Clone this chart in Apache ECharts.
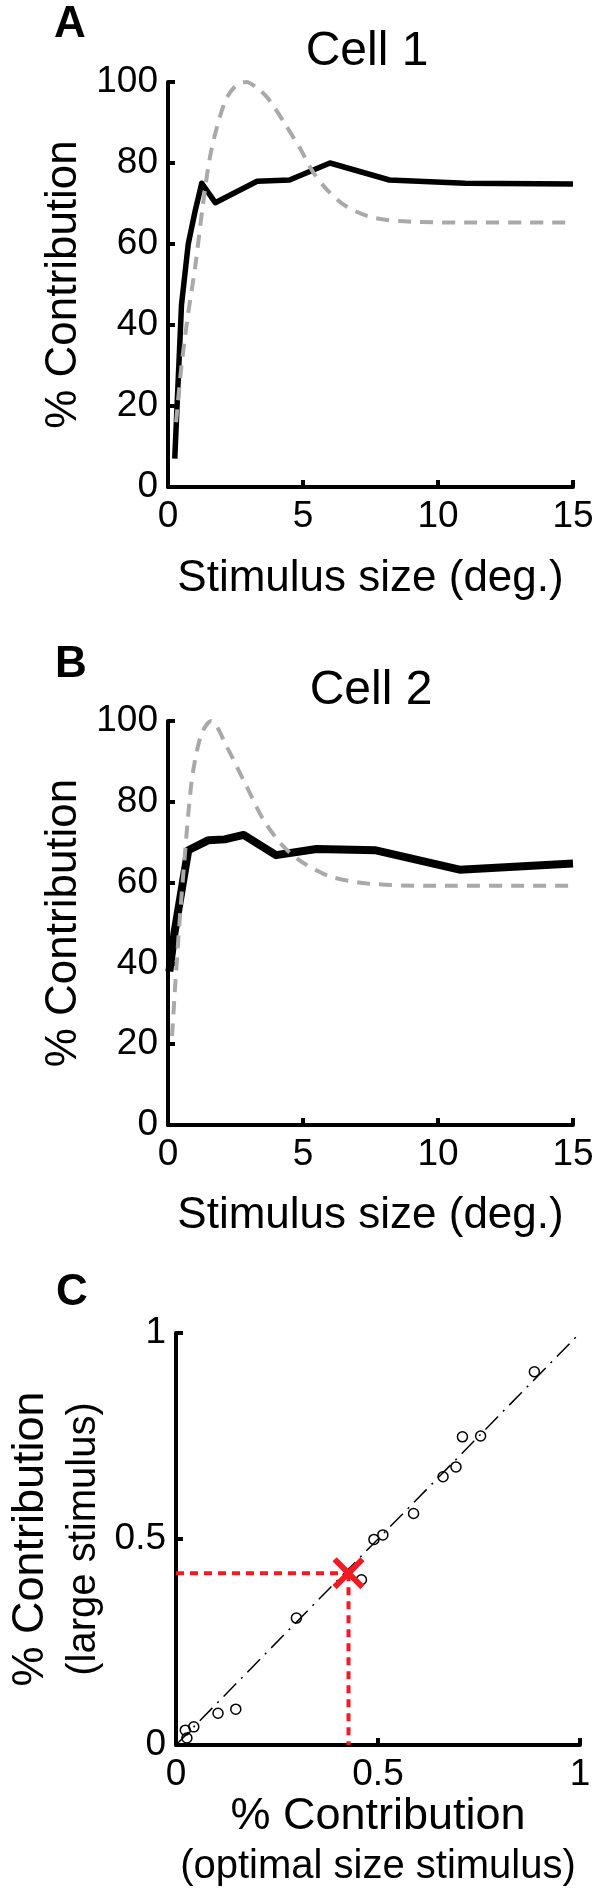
<!DOCTYPE html>
<html>
<head>
<meta charset="utf-8">
<script src="https://cdn.jsdelivr.net/npm/echarts@6/dist/echarts.min.js"></script>
<style>
html,body{margin:0;padding:0;background:#fff;}
#chart{width:600px;height:1895px;}
</style>
</head>
<body>
<div id="chart"></div>
<script>
// ---- Panel A: Cell 1 ----
const cell1DataX = [0.25, 0.5, 0.75, 1.0, 1.25, 1.75, 3.3, 4.5, 6.0, 8.2, 11, 15];
const cell1DataY = [7, 45, 60, 68, 75, 70.2, 75.5, 75.8, 80, 75.8, 75, 74.8];
const cell1ModelX = [0.3, 0.5, 0.75, 1.0, 1.3, 1.6, 2.1, 2.5, 2.9, 3.3, 3.7, 4.3, 4.9, 5.35, 5.9, 6.6, 7.6, 9, 11, 15];
const cell1ModelY = [16, 30, 43, 54, 70, 83, 95, 99, 100, 98.5, 96, 90, 83.5, 78, 73.3, 69.3, 66.5, 65.5, 65.3, 65.3];

// ---- Panel B: Cell 2 ----
const cell2DataX = [0.05, 0.25, 0.75, 1.5, 2.1, 2.8, 4.0, 5.5, 7.7, 10.8, 15];
const cell2DataY = [38, 48, 68, 70.5, 70.7, 71.8, 66.8, 68.3, 68, 63.2, 64.7];
const cell2ModelX = [0.15, 0.3, 0.47, 0.63, 0.79, 0.94, 1.25, 1.6, 2.18, 2.92, 3.54, 4.28, 5.03, 6.02, 7.38, 9.6, 15];
const cell2ModelY = [22, 38, 54, 67.3, 79.7, 88, 97, 100, 93.6, 83.7, 75.5, 68.9, 64.8, 61.5, 59.8, 59.2, 59.2];

// ---- Panel C: population ----
const optimalContrib = [0.023, 0.027, 0.044, 0.104, 0.148, 0.298, 0.459, 0.49, 0.512, 0.588, 0.661, 0.693, 0.709, 0.754, 0.887];
const largeContrib   = [0.036, 0.017, 0.044, 0.077, 0.087, 0.308, 0.401, 0.499, 0.51, 0.562, 0.651, 0.675, 0.748, 0.75, 0.906];
const highlightCell = [0.427, 0.417];
const unityLine = [0, 1];

// tick labels
const sizeTicks = [0, 5, 10, 15];
const pctTicks = [0, 20, 40, 60, 80, 100];
const fracTicks = [0, 0.5, 1];

const FONT = "'Liberation Sans', Arial, Helvetica, sans-serif";
const zip = (a, b) => a.map((v, i) => [v, b[i]]);

function xAxisBase(gridIndex, ticks, name, nameGap) {
  return {
    type: 'value', gridIndex: gridIndex,
    min: ticks[0], max: ticks[ticks.length - 1], interval: ticks[1] - ticks[0],
    axisLine: { show: true, lineStyle: { color: '#000', width: 4 } },
    axisTick: { show: true, inside: true, length: 7, lineStyle: { color: '#000', width: 4 } },
    axisLabel: { color: '#000', fontSize: 37, fontFamily: FONT, margin: 11 },
    splitLine: { show: false },
    name: name, nameLocation: 'middle', nameGap: nameGap,
    nameTextStyle: { color: '#000', fontSize: 44, fontFamily: FONT }
  };
}
function yAxisBase(gridIndex, ticks, name, nameGap) {
  return {
    type: 'value', gridIndex: gridIndex,
    min: ticks[0], max: ticks[ticks.length - 1], interval: ticks[1] - ticks[0],
    axisLine: { show: true, lineStyle: { color: '#000', width: 4 } },
    axisTick: { show: true, inside: true, length: 7, lineStyle: { color: '#000', width: 4 } },
    axisLabel: { color: '#000', fontSize: 37, fontFamily: FONT, margin: 10 },
    splitLine: { show: false },
    name: name, nameLocation: 'middle', nameGap: nameGap,
    nameTextStyle: { color: '#000', fontSize: 44, fontFamily: FONT }
  };
}

const xC = xAxisBase(2, fracTicks, '{a|% Contribution}\n{b|(optimal size stimulus)}', 47);
xC.nameTextStyle = { color: '#000', fontFamily: FONT, rich: {
  a: { fontSize: 45, lineHeight: 50, fontFamily: FONT, color: '#000' },
  b: { fontSize: 40, lineHeight: 50, fontFamily: FONT, color: '#000' } } };
const yC = yAxisBase(2, fracTicks, '{a|% Contribution}\n{b|(large stimulus)}', 66);
yC.nameTextStyle = { color: '#000', fontFamily: FONT, rich: {
  a: { fontSize: 45, lineHeight: 53, fontFamily: FONT, color: '#000' },
  b: { fontSize: 40, lineHeight: 53, fontFamily: FONT, color: '#000' } } };

const GRAY = '#a9a9a9';
const RED = '#f01c24';

const option = {
  animation: false,
  backgroundColor: '#fff',
  grid: [
    { left: 168, top: 82, width: 405, height: 405 },
    { left: 168, top: 721, width: 405, height: 404 },
    { left: 167, top: 1333, width: 413, height: 412 }
  ],
  xAxis: [
    xAxisBase(0, sizeTicks, 'Stimulus size (deg.)', 70),
    xAxisBase(1, sizeTicks, 'Stimulus size (deg.)', 69),
    xC
  ],
  yAxis: [
    yAxisBase(0, pctTicks, '% Contribution', 75),
    yAxisBase(1, pctTicks, '% Contribution', 75),
    yC
  ],
  graphic: [
    { type: 'text', x: 70, y: 25, style: { text: 'A', font: "bold 44px " + FONT, fill: '#000', textAlign: 'center', textVerticalAlign: 'middle' } },
    { type: 'text', x: 367, y: 52, style: { text: 'Cell 1', font: "48px " + FONT, fill: '#000', textAlign: 'center', textVerticalAlign: 'middle' } },
    { type: 'text', x: 71, y: 665, style: { text: 'B', font: "bold 44px " + FONT, fill: '#000', textAlign: 'center', textVerticalAlign: 'middle' } },
    { type: 'text', x: 371, y: 691, style: { text: 'Cell 2', font: "48px " + FONT, fill: '#000', textAlign: 'center', textVerticalAlign: 'middle' } },
    { type: 'text', x: 72, y: 1293, style: { text: 'C', font: "bold 44px " + FONT, fill: '#000', textAlign: 'center', textVerticalAlign: 'middle' } }
  ],
  series: [
    { type: 'line', xAxisIndex: 0, yAxisIndex: 0, data: zip(cell1DataX, cell1DataY), symbol: 'none',
      lineStyle: { color: '#000', width: 5.5, join: 'round' }, z: 2 },
    { type: 'line', xAxisIndex: 0, yAxisIndex: 0, data: zip(cell1ModelX, cell1ModelY), symbol: 'none', smooth: 0.3,
      lineStyle: { color: GRAY, width: 4, type: [13, 9] }, z: 3 },
    { type: 'line', xAxisIndex: 1, yAxisIndex: 1, data: zip(cell2DataX, cell2DataY), symbol: 'none',
      lineStyle: { color: '#000', width: 8, join: 'round' }, z: 2 },
    { type: 'line', xAxisIndex: 1, yAxisIndex: 1, data: zip(cell2ModelX, cell2ModelY), symbol: 'none', smooth: 0.3,
      lineStyle: { color: GRAY, width: 4, type: [13, 9] }, z: 3 },
    { type: 'line', xAxisIndex: 2, yAxisIndex: 2, data: zip(unityLine, unityLine), symbol: 'none',
      lineStyle: { color: '#000', width: 1.5, type: [18, 7, 2, 7] }, z: 2 },
    { type: 'scatter', xAxisIndex: 2, yAxisIndex: 2, data: zip(optimalContrib, largeContrib), symbol: 'circle', symbolSize: 10,
      itemStyle: { color: 'rgba(255,255,255,0)', borderColor: '#000', borderWidth: 1.5, opacity: 1 }, z: 3 },
    { type: 'line', xAxisIndex: 2, yAxisIndex: 2, data: [[0, highlightCell[1]], highlightCell], symbol: 'none',
      lineStyle: { color: RED, width: 4, type: [8, 6] }, z: 4 },
    { type: 'line', xAxisIndex: 2, yAxisIndex: 2, data: [highlightCell, [highlightCell[0], 0]], symbol: 'none',
      lineStyle: { color: RED, width: 4, type: [8, 6] }, z: 4 },
    { type: 'scatter', xAxisIndex: 2, yAxisIndex: 2, data: [highlightCell], symbolSize: 32,
      symbol: 'path://M0,0.13 L0.13,0 L0.5,0.37 L0.87,0 L1,0.13 L0.63,0.5 L1,0.87 L0.87,1 L0.5,0.63 L0.13,1 L0,0.87 L0.37,0.5 Z',
      itemStyle: { color: RED, opacity: 1 }, z: 5 }
  ]
};

const chart = echarts.init(document.getElementById('chart'));
chart.setOption(option);
</script>
</body>
</html>
